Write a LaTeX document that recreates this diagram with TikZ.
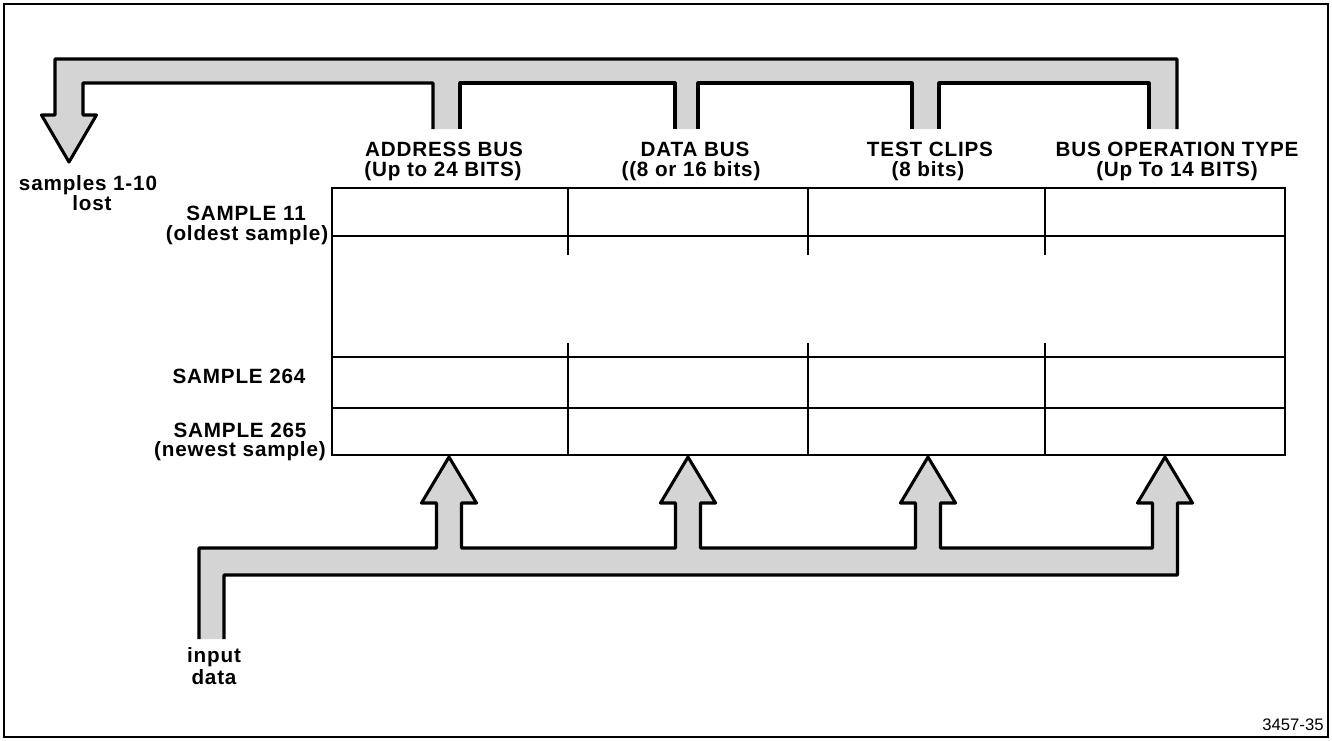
\documentclass[tikz,border=0pt]{standalone}
\usepackage{fontspec}
\setmainfont{Liberation Sans}[LetterSpace=4]
\newfontfamily\numfont{Liberation Sans}
\begin{document}
\begin{tikzpicture}[x=0.75pt,y=-0.75pt,
  lbl/.style={font=\fontsize{15.5}{17}\selectfont\bfseries, anchor=base, inner sep=0pt},
  busline/.style={line width=2.3pt, line join=round, line cap=butt},
  busfill/.style={fill=black!17},
  gridline/.style={line width=2.2pt},
]
\useasboundingbox (0,0) rectangle (1332,740);
\draw[line width=1.6pt] (4,4) rectangle (1328,737);

% ---- top bus (samples shifted out) ----
\fill[busfill] (433,129) -- (433,83) -- (83,83) -- (83,115) -- (96.5,115) -- (69,162) -- (41.5,115) -- (55,115) -- (55,59) -- (1177,59) -- (1177,129)
  -- (1149,129) -- (1149,83) -- (939,83) -- (939,129) -- (912,129) -- (912,83) -- (698,83) -- (698,129)
  -- (675,129) -- (675,83) -- (460,83) -- (460,129) -- cycle;
\draw[busline] (433,129) -- (433,83) -- (83,83) -- (83,115) -- (96.5,115) -- (69,162) -- (41.5,115) -- (55,115) -- (55,59) -- (1177,59) -- (1177,129);
\draw[busline] (1149,129) -- (1149,83) -- (939,83) -- (939,129);
\draw[busline] (912,129) -- (912,83) -- (698,83) -- (698,129);
\draw[busline] (675,129) -- (675,83) -- (460,83) -- (460,129);

% ---- bottom bus (input data) ----
\fill[busfill] (199,639) -- (199,548)
  \foreach \c in {449,688,928} { -- (\c-12.5,548) -- (\c-12.5,503) -- (\c-27.5,503) -- (\c,457) -- (\c+27.5,503) -- (\c+12.5,503) -- (\c+12.5,548) }
  -- (1152.5,548) -- (1152.5,503) -- (1137.5,503) -- (1165,457) -- (1192.5,503) -- (1177.5,503) -- (1177.5,575)
  -- (224,575) -- (224,639) -- cycle;
\draw[busline] (199,639) -- (199,548)
  \foreach \c in {449,688,928} { -- (\c-12.5,548) -- (\c-12.5,503) -- (\c-27.5,503) -- (\c,457) -- (\c+27.5,503) -- (\c+12.5,503) -- (\c+12.5,548) }
  -- (1152.5,548) -- (1152.5,503) -- (1137.5,503) -- (1165,457) -- (1192.5,503) -- (1177.5,503) -- (1177.5,575)
  -- (224,575) -- (224,639);

% ---- sample memory table ----
\draw[gridline] (332,188) rectangle (1285,455);
\foreach \y in {236,357,408} \draw[gridline] (332,\y) -- (1285,\y);
\foreach \x in {568,808,1045} {
  \draw[gridline] (\x,188) -- (\x,255);
  \draw[gridline] (\x,343) -- (\x,455);
}

% ---- labels ----
\node[lbl] (lost1) at (88,190) {samples 1-10};
\node[lbl] (lost2) at (92,210) {lost};

\node[lbl] (addr1) at (444,156) {ADDRESS BUS};
\node[lbl] (addr2) at (443,176) {(Up to 24 BITS)};
\node[lbl] (data1) at (695,156) {DATA BUS};
\node[lbl] (data2) at (691,176) {((8 or 16 bits)};
\node[lbl] (test1) at (930,156) {TEST CLIPS};
\node[lbl] (test2) at (928,176) {(8 bits)};
\node[lbl] (bop1) at (1177,156) {BUS OPERATION TYPE};
\node[lbl] (bop2) at (1177,176) {(Up To 14 BITS)};

\node[lbl] (s11a) at (246,220) {SAMPLE 11};
\node[lbl] (s11b) at (247,240) {(oldest sample)};
\node[lbl] (s264) at (239,383) {SAMPLE 264};
\node[lbl] (s265a) at (240,437) {SAMPLE 265};
\node[lbl] (s265b) at (240,456) {(newest sample)};

\node[lbl] (in1) at (214,662) {input};
\node[lbl] (in2) at (214,684) {data};

\node[anchor=base, inner sep=0pt, font=\numfont\fontsize{12.5}{14}\selectfont] (fig) at (1293,730) {3457-35};
\end{tikzpicture}
\end{document}
